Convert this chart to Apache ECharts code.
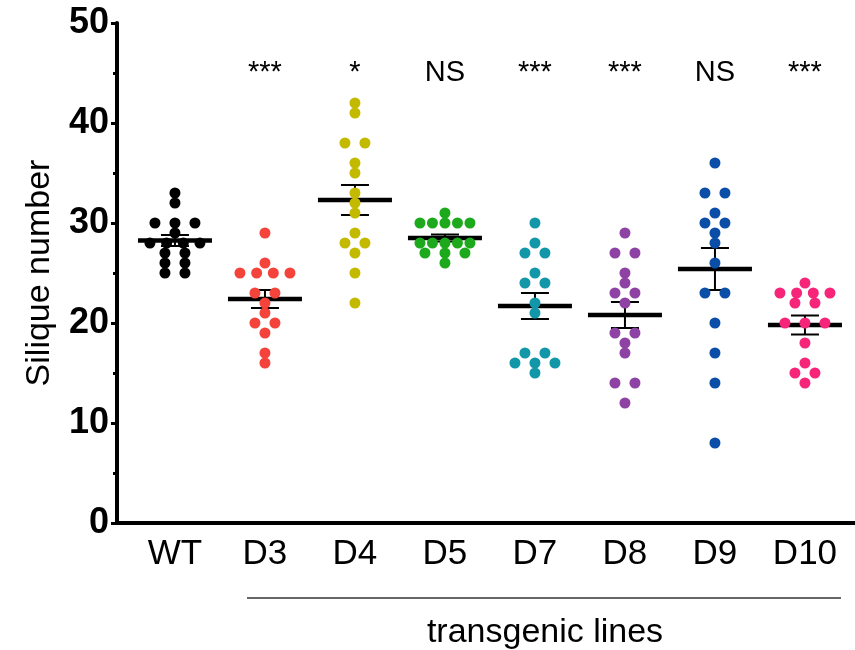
<!DOCTYPE html>
<html>
<head>
<meta charset="utf-8">
<title>Silique number</title>
<script src="https://cdn.jsdelivr.net/npm/echarts@6/dist/echarts.min.js"></script>
<style>
  html, body { margin: 0; padding: 0; background: #fff; }
  #main { width: 855px; height: 650px; }
</style>
</head>
<body>
<div id="main"></div>
<script>
const lines = ['WT', 'D3', 'D4', 'D5', 'D7', 'D8', 'D9', 'D10'];
const colors = ['#000000', '#f4433b', '#c3ba00', '#1caa1c', '#1297a9', '#8e42a3', '#0b4ea8', '#f7257a'];

// silique counts per plant
const wt = [33, 32, 30, 30, 30, 29, 28, 28, 28, 28, 27, 27, 26, 26, 25, 25];
const d3 = [29, 26, 25, 25, 25, 25, 23, 23, 22, 21, 20, 20, 19, 17, 16];
const d4 = [42, 41, 38, 38, 36, 35, 33, 32, 31, 29, 28, 28, 27, 25, 22];
const d5 = [31, 30, 30, 30, 30, 30, 28, 28, 28, 28, 28, 27, 27, 27, 26];
const d7 = [30, 28, 27, 27, 25, 24, 24, 22, 21, 17, 17, 16, 16, 16, 15];
const d8 = [29, 27, 27, 25, 24, 23, 23, 22, 19, 19, 18, 17, 14, 14, 12];
const d9 = [36, 33, 33, 31, 30, 30, 29, 28, 26, 23, 23, 20, 17, 14, 8];
const d10 = [24, 23, 23, 23, 23, 22, 22, 20, 20, 20, 18, 16, 15, 15, 14];
const groups = [wt, d3, d4, d5, d7, d8, d9, d10];

// mean +/- SEM as drawn
const means = [28.25, 22.4, 32.3, 28.5, 21.7, 20.8, 25.4, 19.8];
const sems = [0.55, 0.9, 1.5, 0.35, 1.3, 1.3, 2.1, 0.95];

const marks = ['', '***', '*', 'NS', '***', '***', 'NS', '***'];

const font = 'Liberation Sans, Arial, sans-serif';

// spread equal values side by side (pixel offsets)
function swarm(vals, idx) {
  const counts = {};
  vals.forEach(v => counts[v] = (counts[v] || 0) + 1);
  const seen = {};
  return vals.map(v => {
    const k = counts[v];
    const i = seen[v] || 0;
    seen[v] = i + 1;
    const gap = k > 1 ? Math.min(20, 50 / (k - 1)) : 0;
    return { value: [idx, v], symbolOffset: [(i - (k - 1) / 2) * gap, 0] };
  });
}

const series = groups.map((vals, i) => ({
  name: lines[i],
  type: 'scatter',
  data: swarm(vals, i),
  symbolSize: 11,
  itemStyle: { color: colors[i], opacity: 1 },
  z: 3
}));

series.push({
  type: 'custom',
  z: 2,
  data: means.map((m, i) => [i, m, sems[i]]),
  renderItem(params, api) {
    const x = api.value(0), m = api.value(1), s = api.value(2);
    const c = api.coord([x, m]);
    const top = api.coord([x, m + s])[1];
    const bot = api.coord([x, m - s])[1];
    const thin = { stroke: '#000', lineWidth: 2 };
    return {
      type: 'group',
      children: [
        { type: 'line', shape: { x1: c[0], y1: top, x2: c[0], y2: bot }, style: thin },
        { type: 'line', shape: { x1: c[0] - 14, y1: top, x2: c[0] + 14, y2: top }, style: thin },
        { type: 'line', shape: { x1: c[0] - 14, y1: bot, x2: c[0] + 14, y2: bot }, style: thin },
        { type: 'line', shape: { x1: c[0] - 37, y1: c[1], x2: c[0] + 37, y2: c[1] }, style: { stroke: '#000', lineWidth: 4.5 } }
      ]
    };
  }
});

// significance marks above each line
series.push({
  type: 'scatter',
  symbolSize: 0,
  silent: true,
  itemStyle: { color: '#000' },
  data: marks.map((t, i) => [i, 45]),
  label: {
    show: true,
    position: 'inside',
    formatter: p => marks[p.dataIndex],
    fontSize: 29,
    fontFamily: font,
    color: '#000',
    opacity: 1
  }
});

const option = {
  animation: false,
  grid: { left: 117, right: 0, top: 23, bottom: 127 },
  xAxis: {
    type: 'value',
    min: -0.644,
    max: 7.556,
    axisLine: { show: true, lineStyle: { color: '#000', width: 4 } },
    axisTick: { show: false },
    splitLine: { show: false },
    axisLabel: {
      customValues: [0, 1, 2, 3, 4, 5, 6, 7],
      formatter: v => lines[v],
      fontSize: 35,
      fontFamily: font,
      color: '#000',
      margin: 14
    }
  },
  yAxis: {
    type: 'value',
    min: 0,
    max: 50,
    interval: 10,
    axisLine: { show: true, onZero: false, lineStyle: { color: '#000', width: 4 } },
    axisTick: { show: true, length: 6, lineStyle: { color: '#000', width: 3 } },
    minorTick: { show: true, splitNumber: 2, length: 4, lineStyle: { color: '#000', width: 3 } },
    splitLine: { show: false },
    axisLabel: { fontSize: 36, fontWeight: 'bold', fontFamily: font, color: '#000', margin: 8 },
    name: 'Silique number',
    nameLocation: 'middle',
    nameGap: 60,
    nameTextStyle: { fontSize: 34, fontFamily: font, color: '#000' }
  },
  graphic: [
    { type: 'line', shape: { x1: 247, y1: 598, x2: 841, y2: 598 }, style: { stroke: '#333', lineWidth: 1.3 } },
    {
      type: 'text', x: 545, y: 633,
      style: { text: 'transgenic lines', fontSize: 34, fontFamily: font, fill: '#000', align: 'center', verticalAlign: 'middle' }
    }
  ],
  series: series
};

const chart = echarts.init(document.getElementById('main'));
chart.setOption(option);
</script>
</body>
</html>
